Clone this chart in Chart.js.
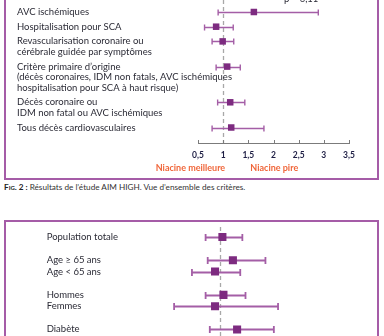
<!DOCTYPE html>
<html><head><meta charset="utf-8">
<script src="https://cdn.jsdelivr.net/npm/chart.js@4.4.1/dist/chart.umd.min.js"></script>
<style>
html,body{margin:0;padding:0;background:#fff;width:384px;height:336px;overflow:hidden;position:relative;font-family:Lato,sans-serif;}
.box{position:absolute;border:2px solid #a55ca7;box-sizing:border-box;}
#box1{left:4px;top:-20px;width:375px;height:200px;}
#box2{left:4px;top:220px;width:375px;height:140px;}
canvas{position:absolute;left:0;}
#c1{top:0;}
#c2{top:221px;}
#cap{position:absolute;left:4px;top:182px;font-size:8.2px;line-height:10px;color:#333;white-space:nowrap;}
#cap b{font-variant:small-caps;color:#222;}
</style></head>
<body>
<div class="box" id="box1"></div>
<div class="box" id="box2"></div>
<canvas id="c1" width="384" height="180"></canvas>
<canvas id="c2" width="384" height="115"></canvas>
<div id="cap"><b>Fig. 2 :</b> Résultats de l’étude AIM HIGH. Vue d’ensemble des critères.</div>
<script>
// ---- Data: top panel (outcomes) ----
const outcomeLabels = [
  ["AVC ischémiques"],
  ["Hospitalisation pour SCA"],
  ["Revascularisation coronaire ou", "cérébrale guidée par symptômes"],
  ["Critère primaire d’origine", "(décès coronaires, IDM non fatals, AVC ischémiques", "hospitalisation pour SCA à haut risque)"],
  ["Décès coronaire ou", "IDM non fatal ou AVC ischémiques"],
  ["Tous décès cardiovasculaires"]
];
const outcomeHR   = [1.61, 0.86, 0.99, 1.08, 1.14, 1.16];
const outcomeLow  = [0.90, 0.63, 0.78, 0.86, 0.89, 0.78];
const outcomeHigh = [2.89, 1.20, 1.21, 1.34, 1.43, 1.81];
const xTicks = [0.5, 1, 1.5, 2, 2.5, 3, 3.5];
const pValueText = "p = 0,11";
const betterLabel = "Niacine meilleure";
const worseLabel = "Niacine pire";

// ---- Data: bottom panel (subgroups) ----
const subgroupLabels = ["Population totale", "Age ≥ 65 ans", "Age < 65 ans", "Hommes", "Femmes", "Diabète"];
const subgroupGroup  = [0, 1, 1, 2, 2, 3];
const subgroupHR   = [1.02, 1.12, 0.95, 1.03, 0.95, 1.16];
const subgroupLow  = [0.86, 0.88, 0.73, 0.86, 0.56, 0.90];
const subgroupHigh = [1.21, 1.43, 1.19, 1.24, 1.55, 1.51];

// row positions (in text-line units) derived from label line counts / groups
const GAP = 0.4;
const outcomePos = [];
let acc = 0;
outcomeLabels.forEach(l => { outcomePos.push(acc); acc += l.length + GAP; });
const subgroupPos = subgroupLabels.map((l, i) => i + subgroupGroup[i] * 1.06);

const MARK = '#7d2b80', CI = '#a45ea6', TXT = '#2b2b36';

function forestPlugin(cfg) {
  return {
    id: 'forest' + cfg.id,
    beforeDatasetsDraw(chart) {
      const {ctx, chartArea: a, scales: {x, y}} = chart;
      ctx.save();
      const rx = Math.round(x.getPixelForValue(1)) + 0.5;
      ctx.strokeStyle = '#a8a8a8'; ctx.lineWidth = 1.3; ctx.setLineDash([4, 3]);
      ctx.beginPath(); ctx.moveTo(rx, a.top + cfg.refTop); ctx.lineTo(rx, a.bottom); ctx.stroke();
      ctx.setLineDash([]);
      ctx.strokeStyle = CI; ctx.lineWidth = cfg.ciWidth;
      cfg.low.forEach((lo, i) => {
        const py = Math.round(y.getPixelForValue(cfg.pos[i])) + 0.5;
        const x0 = x.getPixelForValue(lo), x1 = x.getPixelForValue(cfg.high[i]);
        ctx.beginPath();
        ctx.moveTo(x0, py); ctx.lineTo(x1, py);
        ctx.moveTo(x0, py - cfg.cap); ctx.lineTo(x0, py + cfg.cap);
        ctx.moveTo(x1, py - cfg.cap); ctx.lineTo(x1, py + cfg.cap);
        ctx.stroke();
      });
      ctx.fillStyle = TXT; ctx.font = cfg.font; ctx.textBaseline = 'middle'; ctx.textAlign = 'left';
      cfg.labels.forEach((lines, i) => {
        (Array.isArray(lines) ? lines : [lines]).forEach((t, k) => {
          ctx.fillText(t, cfg.labelX, y.getPixelForValue(cfg.pos[i] + k * cfg.lineStep));
        });
      });
      ctx.restore();
    }
  };
}

const axisExtras = {
  id: 'axisExtras',
  afterDraw(chart) {
    const {ctx, chartArea: a, scales: {x, y}} = chart;
    ctx.save();
    ctx.strokeStyle = '#7b7b7b'; ctx.lineWidth = 1;
    ctx.beginPath();
    xTicks.forEach(v => {
      const px = Math.round(x.getPixelForValue(v)) + 0.5;
      ctx.moveTo(px, a.bottom - 3); ctx.lineTo(px, a.bottom + 1);
    });
    ctx.stroke();
    ctx.fillStyle = '#f0663a'; ctx.font = 'bold 9px Lato'; ctx.textBaseline = 'middle';
    ctx.textAlign = 'right'; ctx.fillText(betterLabel, x.getPixelForValue(1) + 2, a.bottom + 25);
    ctx.textAlign = 'left'; ctx.fillText(worseLabel, x.getPixelForValue(1.5) + 2, a.bottom + 25);
    ctx.fillStyle = TXT; ctx.font = '9.5px Lato'; ctx.textAlign = 'center';
    ctx.fillText(pValueText, x.getPixelForValue(2.55), y.getPixelForValue(outcomePos[0]) - 13);
    ctx.restore();
  }
};

new Chart(document.getElementById('c1'), {
  type: 'scatter',
  data: { datasets: [{
    data: outcomeHR.map((v, i) => ({x: v, y: outcomePos[i]})),
    pointStyle: 'rect', pointRadius: 4.6, pointHoverRadius: 4.6,
    backgroundColor: MARK, borderWidth: 0
  }]},
  options: {
    responsive: false, animation: false, events: [],
    layout: { autoPadding: false, padding: {left: 198, right: 35, top: 0, bottom: 0} },
    plugins: { legend: {display: false}, tooltip: {enabled: false} },
    scales: {
      x: {
        type: 'linear', min: 0.5, max: 3.5,
        afterBuildTicks: s => { s.ticks = xTicks.map(v => ({value: v})); },
        afterFit: s => { s.height = 37; },
        ticks: { callback: v => String(v).replace('.', ','), font: {family: 'Lato', size: 8.5, weight: 'bold'},
                 color: '#1e1e44', padding: 7, maxRotation: 0, autoSkip: false },
        grid: { display: false, drawTicks: false },
        border: { display: true, color: '#7b7b7b', width: 1 }
      },
      y: { type: 'linear', reverse: true, min: -12 / 10.5, max: (143 - 12) / 10.5, display: false }
    }
  },
  plugins: [forestPlugin({id: 1, labels: outcomeLabels, pos: outcomePos, low: outcomeLow, high: outcomeHigh,
    labelX: 17, font: '9.5px Lato', lineStep: 1, cap: 3, ciWidth: 1.4, refTop: 0}), axisExtras]
});

new Chart(document.getElementById('c2'), {
  type: 'scatter',
  data: { datasets: [{
    data: subgroupHR.map((v, i) => ({x: v, y: subgroupPos[i]})),
    pointStyle: 'rect', pointRadius: 5.7, pointHoverRadius: 5.7,
    backgroundColor: MARK, borderWidth: 0
  }]},
  options: {
    responsive: false, animation: false, events: [],
    layout: { autoPadding: false, padding: {left: 115.3, right: 58.7, top: 0, bottom: 0} },
    plugins: { legend: {display: false}, tooltip: {enabled: false} },
    scales: {
      x: { type: 'linear', min: 0, max: 2, display: false },
      y: { type: 'linear', reverse: true, min: -16 / 11.3, max: 99 / 11.3, display: false }
    }
  },
  plugins: [forestPlugin({id: 2, labels: subgroupLabels, pos: subgroupPos, low: subgroupLow, high: subgroupHigh,
    labelX: 46.7, font: '9.5px Lato', lineStep: 1, cap: 3.5, ciWidth: 1.8, refTop: 6})]
});
</script>
</body></html>
